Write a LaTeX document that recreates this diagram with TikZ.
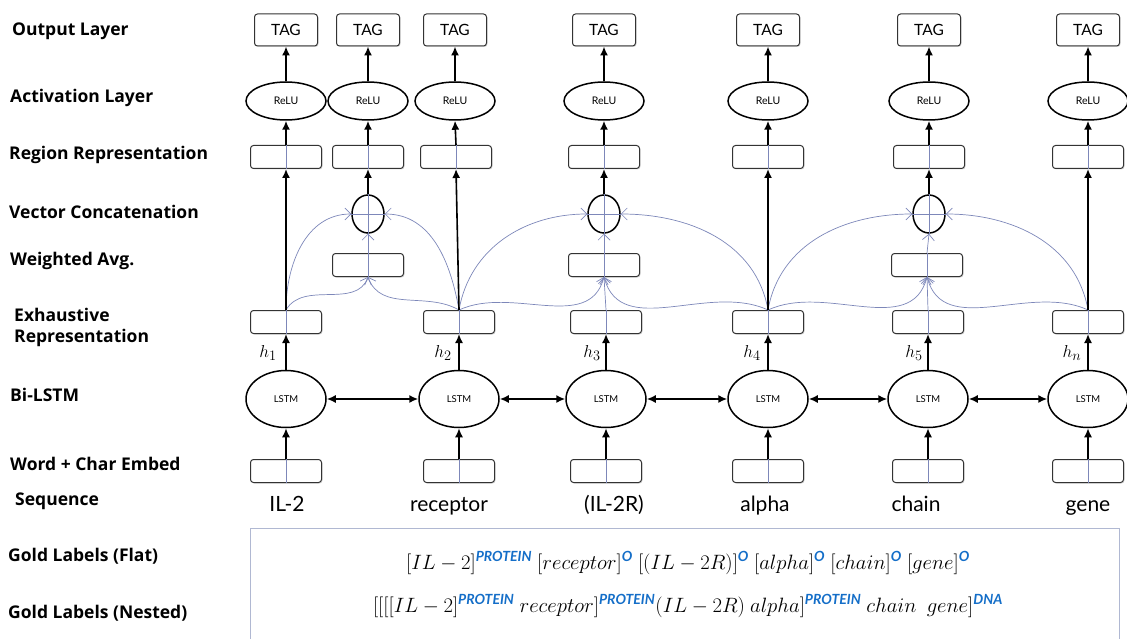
\documentclass[tikz,border=0pt]{standalone}
\usepackage{fontspec}
\usepackage{amsmath}
\setmainfont{Lato}
\newfontfamily\labfont{Open Sans}
\usetikzlibrary{arrows.meta,shapes.geometric,shadows}
\definecolor{blueln}{RGB}{125,135,185}
\definecolor{supblue}{RGB}{20,110,200}
\definecolor{framec}{RGB}{176,184,210}
\newcommand{\tg}[1]{\text{\color{supblue}\fontsize{14}{14}\selectfont\bfseries\itshape #1}}
\begin{document}
\begin{tikzpicture}[x=1pt,y=1pt,
  box/.style={draw=black!80, line width=1pt, rounded corners=3pt, fill=white, minimum width=71pt, minimum height=23pt, inner sep=0pt, drop shadow={shadow xshift=1pt, shadow yshift=-1pt, opacity=0.3}},
  tagbox/.style={box, minimum width=63pt, minimum height=32pt, font=\fontsize{15.5}{15.5}\selectfont},
  relu/.style={ellipse, draw=black, line width=1.5pt, fill=white, minimum width=80pt, minimum height=38pt, inner sep=0pt, font=\fontsize{10.5}{10.5}\selectfont},
  lstm/.style={relu, minimum height=57pt, font=\fontsize{9.5}{9.5}\selectfont},
  cat/.style={ellipse, draw=black, line width=1.5pt, fill=white, minimum width=32pt, minimum height=38pt, inner sep=0pt},
  layer/.style={anchor=west, font=\labfont\fontsize{17.5}{17.5}\selectfont\bfseries, inner sep=0pt},
  word/.style={anchor=base, font=\fontsize{21}{21}\selectfont, inner sep=0pt},
  hl/.style={font=\fontsize{19}{19}\selectfont, inner sep=0pt},
  arr/.style={line width=1.6pt, -{Latex[length=9pt,width=8pt]}},
  darr/.style={line width=1.6pt, {Latex[length=9pt,width=8pt]}-{Latex[length=9pt,width=8pt]}},
  barr/.style={draw=blueln, line width=0.7pt, -{Straight Barb[length=6pt,width=12pt]}},
  bln/.style={draw=blueln, line width=0.7pt},
  gold/.style={font=\fontsize{20}{20}\selectfont, inner sep=0pt},
]
\useasboundingbox (0,0) rectangle (1127,-639);

% left labels
\node[layer] (l1) at (12,-31) {Output Layer};
\node[layer] (l2) at (10,-98) {Activation Layer};
\node[layer] (l3) at (9,-155) {Region Representation};
\node[layer] (l4) at (9,-212) {Vector Concatenation};
\node[layer] (l5) at (10,-261) {Weighted Avg.};
\node[layer] (l6) at (14,-315) {Exhaustive};
\node[layer] (l6b) at (14,-338) {Representation};
\node[layer] (l7) at (10,-395) {Bi-LSTM};
\node[layer] (l8) at (10,-464) {Word + Char Embed};
\node[layer] (l9) at (15,-501) {Sequence};
\node[layer] (l10) at (8,-556) {Gold Labels (Flat)};
\node[layer] (l11) at (8,-613) {Gold Labels (Nested)};

% TAG row
\foreach \n/\x in {A/286,B/368,C/455,D/604,E/768,F/929,G/1088}
  \node[tagbox] (t\n) at (\x,-30) {TAG};
% ReLU row
\foreach \n/\x in {A/286,B/368,C/455,D/604,E/768,F/929,G/1088}
  \node[relu] (r\n) at (\x,-101) {ReLU};
% Region row
\foreach \n/\x in {A/286,B/368,C/456,D/604,E/768,F/929,G/1088}
  \node[box] (g\n) at (\x,-157) {};
% concat
\foreach \n/\x in {B/368,D/604,F/929}
  \node[cat] (c\n) at (\x,-214) {};
% weighted avg
\foreach \n/\x in {B/368,D/604,F/927}
  \node[box] (w\n) at (\x,-265) {};
% exhaustive
\foreach \n/\x in {A/286,C/459,D/606,E/768,F/928,G/1088}
  \node[box] (e\n) at (\x,-322) {};
% LSTM
\foreach \n/\x in {A/286,C/459,D/606,E/768,F/928,G/1088}
  \node[lstm] (s\n) at (\x,-399) {LSTM};
% embed
\foreach \n/\x in {A/286,C/459,D/606,E/768,F/928,G/1088}
  \node[box] (m\n) at (\x,-471) {};

% words
\node[word] (wdA) at (287,-511) {IL-2};
\node[word] (wdC) at (449,-511) {receptor};
\node[word] (wdD) at (614,-511) {(IL-2R)};
\node[word] (wdE) at (765,-511) {alpha};
\node[word] (wdF) at (916,-511) {chain};
\node[word] (wdG) at (1088,-511) {gene};

% h labels
\node[hl] (hA) at (268,-353) {$h_1$};
\node[hl] (hC) at (443,-353) {$h_2$};
\node[hl] (hD) at (592,-353) {$h_3$};
\node[hl] (hE) at (752,-353) {$h_4$};
\node[hl] (hF) at (914,-353) {$h_5$};
\node[hl] (hG) at (1072,-353) {$h_n$};

% blue lines through boxes
\foreach \n in {A,B,C,D,E,F,G} \draw[bln] (g\n.south) -- (g\n.north);
\foreach \n in {A,C,D,E,F,G} {\draw[bln] (e\n.south) -- (e\n.north); \draw[bln] (m\n.south) -- (m\n.north);}
\foreach \n in {B,D,F} {\draw[bln] (w\n.south) -- (w\n.north); \draw[bln] (c\n.west) -- (c\n.east); \draw[bln] (c\n.south) -- (c\n.north);}

% blue arrows
\foreach \n in {B,D,F} \draw[barr] (w\n.north) -- (c\n.south);
\draw[barr] (eD.north) -- (wD.south);
\draw[barr] (eF.north) -- (wF.south);
\draw[barr] (eA.north) to[out=90,in=180] (cB.west);
\draw[barr] (eA.north) to[out=60,in=-110] (wB.south);
\draw[barr] (eC.north) to[out=100,in=0] (cB.east);
\draw[barr] (eC.north) to[out=150,in=-70] (wB.south);
\draw[barr] (eC.north) to[out=80,in=180] (cD.west);
\draw[barr] (eC.north) to[out=25,in=-105] (wD.south);
\draw[barr] (eE.north) to[out=100,in=0] (cD.east);
\draw[barr] (eE.north) to[out=155,in=-75] (wD.south);
\draw[barr] (eE.north) to[out=80,in=180] (cF.west);
\draw[barr] (eE.north) to[out=25,in=-105] (wF.south);
\draw[barr] (eG.north) to[out=100,in=0] (cF.east);
\draw[barr] (eG.north) to[out=155,in=-75] (wF.south);

% black arrows
\foreach \n in {A,C,D,E,F,G} {\draw[arr] (m\n.north) -- (s\n.south); \draw[arr] (s\n.north) -- (e\n.south);}
\foreach \n in {A,C,E,G} \draw[arr] (e\n.north) -- (g\n.south);
\foreach \n in {B,D,F} \draw[arr] (c\n.north) -- (g\n.south);
\foreach \n in {A,B,C,D,E,F,G} {\draw[arr] (g\n.north) -- (r\n.south); \draw[arr] (r\n.north) -- (t\n.south);}
\draw[darr] (sA.east) -- (sC.west);
\draw[darr] (sC.east) -- (sD.west);
\draw[darr] (sD.east) -- (sE.west);
\draw[darr] (sE.east) -- (sF.west);
\draw[darr] (sF.east) -- (sG.west);

% gold label box
\coordinate (fb1) at (250,-645);
\coordinate (fb2) at (250,-528);
\coordinate (fb3) at (1119,-528);
\coordinate (fb4) at (1119,-645);
\draw[framec, line width=1pt] (fb1) -- (fb2) -- (fb3) -- (fb4);
\node[gold] (flat) at (688,-563)
 {$[IL-2]^{\tg{PROTEIN}}\ [receptor]^{\tg{O}}\ [(IL-2R)]^{\tg{O}}\ [alpha]^{\tg{O}}\ [chain]^{\tg{O}}\ [gene]^{\tg{O}}$};
\node[gold] (nest) at (688,-606)
 {$[[[[IL-2]^{\tg{PROTEIN}}\ receptor]^{\tg{PROTEIN}}(IL-2R)\ alpha]^{\tg{PROTEIN}}\ chain\ \ gene]^{\tg{DNA}}$};
\end{tikzpicture}
\end{document}
